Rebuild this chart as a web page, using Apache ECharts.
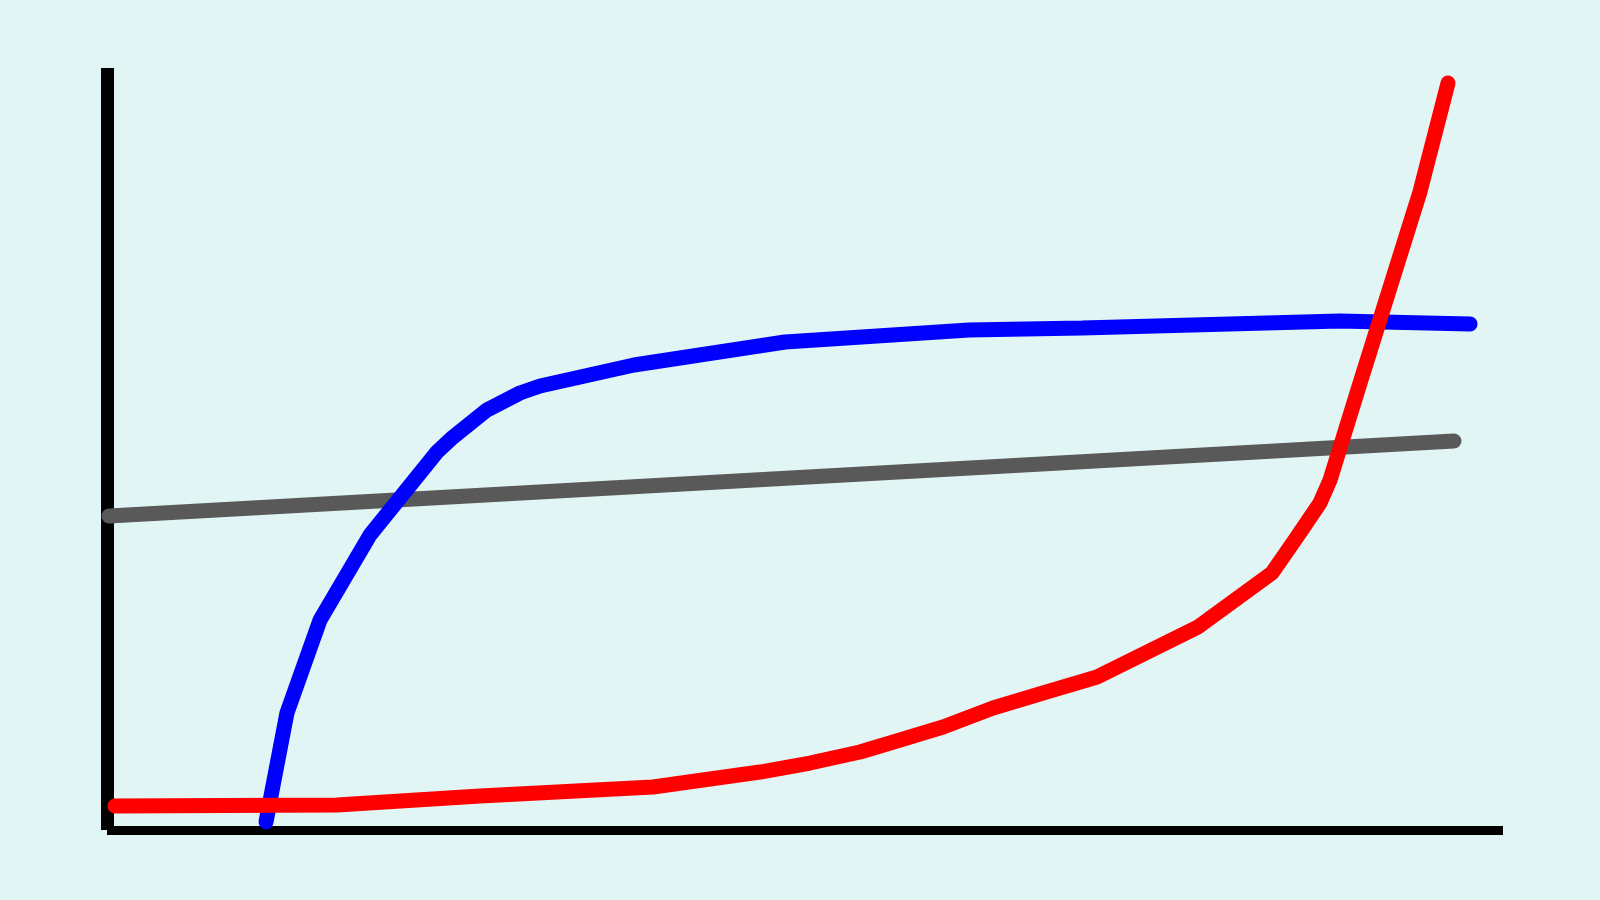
<!DOCTYPE html>
<html>
<head>
<meta charset="utf-8">
<script src="https://cdn.jsdelivr.net/npm/echarts@6/dist/echarts.min.js"></script>
<style>
  html, body { margin: 0; padding: 0; background: #e1f5f4; }
  #main { width: 1600px; height: 900px; }
</style>
</head>
<body>
<div id="main"></div>
<script>
// points, [x, y] on a 0-100 scale
var redData = [
  [0.57, 3.15], [16.48, 3.28], [26.72, 4.46], [39.11, 5.64], [46.78, 7.61],
  [50.36, 8.79], [53.94, 10.24], [56.81, 11.81], [59.89, 13.52], [63.47, 16.01],
  [67.05, 17.98], [70.92, 20.08], [78.15, 26.64], [83.45, 33.73], [85.24, 38.45],
  [86.89, 42.91], [87.61, 45.93], [89.76, 58.66], [94.05, 83.73], [96.06, 98.03]
];
var blueData = [
  [11.39, 1.05], [12.89, 15.35], [15.26, 27.56], [18.84, 38.71], [23.64, 49.61],
  [24.79, 51.57], [27.22, 55.12], [29.58, 57.35], [31.02, 58.27], [37.75, 61.02],
  [48.57, 64.04], [61.75, 65.62], [69.84, 65.88], [88.32, 66.80], [97.64, 66.40]
];
var grayData = [
  [0.14, 41.21], [96.49, 51.05]
];

var myChart = echarts.init(document.getElementById('main'));

function lineSeries(data, color) {
  return {
    type: 'line',
    data: data,
    showSymbol: false,
    silent: true,
    lineStyle: { color: color, width: 15, cap: 'round' }
  };
}

var option = {
  backgroundColor: '#e1f5f4',
  animation: false,
  grid: { left: 107, right: 97, top: 68, bottom: 70 },
  xAxis: {
    type: 'value',
    min: 0,
    max: 100,
    axisLine: { show: true, onZero: false, lineStyle: { color: '#000', width: 9, cap: 'butt' } },
    axisTick: { show: false },
    axisLabel: { show: false },
    splitLine: { show: false }
  },
  yAxis: {
    type: 'value',
    min: 0,
    max: 100,
    axisLine: { show: true, onZero: false, lineStyle: { color: '#000', width: 13, cap: 'butt' } },
    axisTick: { show: false },
    axisLabel: { show: false },
    splitLine: { show: false }
  },
  series: [
    lineSeries(grayData, '#595959'),
    lineSeries(blueData, '#0000ff'),
    lineSeries(redData, '#ff0000')
  ]
};
myChart.setOption(option);
</script>
</body>
</html>
